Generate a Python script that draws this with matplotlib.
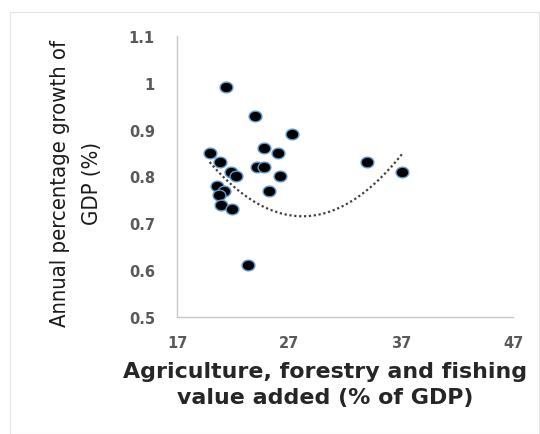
import numpy as np
import matplotlib
matplotlib.use("Agg")
import matplotlib.pyplot as plt
from matplotlib.patches import Rectangle
from matplotlib.path import Path
from matplotlib.transforms import Affine2D
from matplotlib import font_manager

# agriculture share of GDP vs annual GDP growth
agri_share = [21.4, 24.0, 27.3, 19.9, 24.8, 26.0, 20.8, 24.1, 24.8, 21.8,
              22.3, 26.2, 20.6, 21.2, 25.2, 20.7, 20.9, 21.9, 23.3, 34.0, 37.1]
gdp_growth = [0.99, 0.93, 0.89, 0.85, 0.86, 0.85, 0.83, 0.82, 0.82, 0.81,
              0.80, 0.80, 0.78, 0.77, 0.77, 0.76, 0.74, 0.73, 0.61, 0.83, 0.81]
# polynomial (order 2) trend line coefficients, highest power first
trend_coef = [0.00168, -0.09475, 2.051]
x_ticks = [17, 27, 37, 47]
y_ticks = [0.5, 0.6, 0.7, 0.8, 0.9, 1.0, 1.1]
y_tick_labels = ["0.5", "0.6", "0.7", "0.8", "0.9", "1", "1.1"]

# narrow upright face for the vertical title, if one is around
narrow = None
for f in font_manager.fontManager.ttflist:
    if (f.name == "DejaVu Sans" and f.stretch == "condensed"
            and f.style == "normal" and f.weight in (400, "normal")):
        narrow = f.fname
        break

fig = plt.figure(figsize=(5.4, 4.35), dpi=100)
fig.patches.append(Rectangle((0.018, 0.0), 0.98, 0.97, transform=fig.transFigure,
                             fill=False, edgecolor="#e4e4e4", linewidth=0.8))
ax = fig.add_axes([0.328, 0.269, 0.622, 0.646])

# slightly wide dot marker
oval = Affine2D().scale(1.2, 1.0).transform_path(Path.unit_circle())
ax.scatter(agri_share, gdp_growth, s=85, marker=oval, color="black",
           edgecolor="#5b9bd5", linewidth=1.0, zorder=3)

xs = np.linspace(min(agri_share), max(agri_share), 200)
ax.plot(xs, np.polyval(trend_coef, xs), color="#404040", linestyle=(0, (1, 1.2)),
        linewidth=1.6, zorder=2)

ax.set_xlim(17, 47)
ax.set_ylim(0.5, 1.1)
ax.set_xticks(x_ticks)
ax.set_xticklabels([str(t) for t in x_ticks])
ax.set_yticks(y_ticks)
ax.set_yticklabels(y_tick_labels)
ax.tick_params(length=0, labelsize=10.5, labelcolor="#595959")
ax.tick_params(axis="y", pad=16)
ax.tick_params(axis="x", pad=13)
for lbl in ax.get_xticklabels() + ax.get_yticklabels():
    lbl.set_fontweight("bold")
    lbl.set_family(["DejaVu Sans"])

for side in ["top", "right"]:
    ax.spines[side].set_visible(False)
for side in ["left", "bottom"]:
    ax.spines[side].set_color("#c8c8c8")
    ax.spines[side].set_linewidth(1.0)

ax.set_xlabel("Agriculture, forestry and fishing\nvalue added (% of GDP)",
              fontsize=15.9, fontweight="bold", color="#262626",
              family=["DejaVu Sans"], linespacing=1.4)
ax.xaxis.set_label_coords(0.44, -0.155, transform=ax.transAxes)
ax.xaxis.label.set_verticalalignment("top")

ylab_kw = dict(color="#1a1a1a", linespacing=1.75)
if narrow:
    ylab_kw["fontproperties"] = font_manager.FontProperties(fname=narrow, size=15.8)
else:
    ylab_kw.update(family=["Open Sans", "DejaVu Sans"], fontsize=14.5)
ax.set_ylabel("Annual percentage growth of\nGDP (%)", **ylab_kw)
ax.yaxis.set_label_coords(-0.223, 0.48, transform=ax.transAxes)

fig.savefig("out.png", dpi=100)
